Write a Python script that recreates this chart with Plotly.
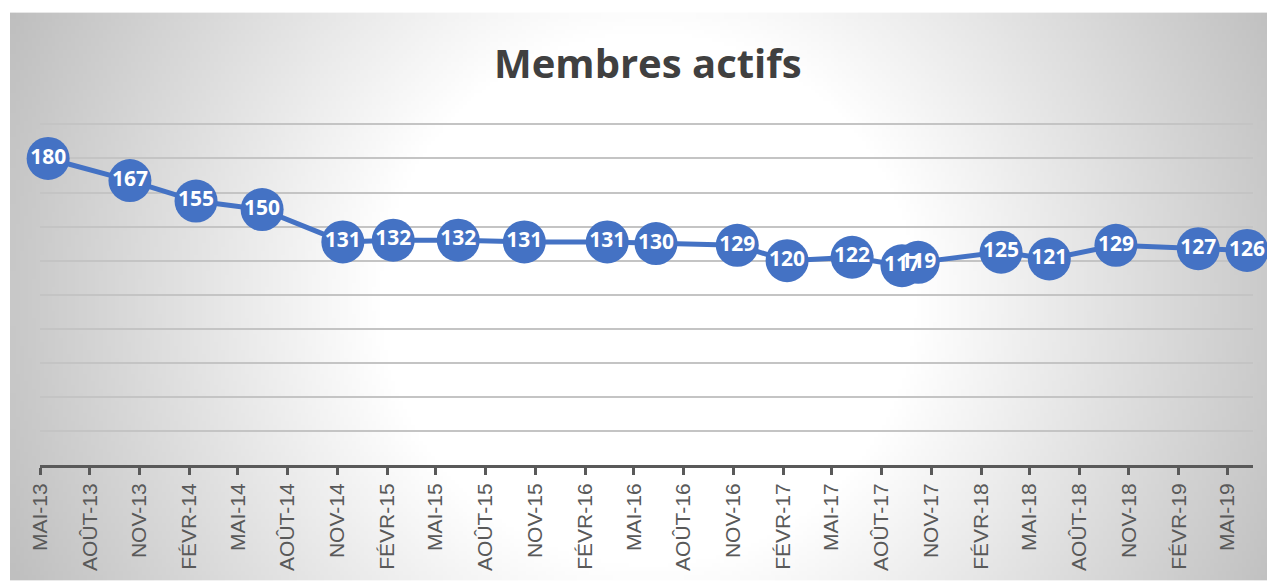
import base64
import struct
import zlib

import plotly.graph_objects as go

# ---------------- data ----------------
dates = [
    "2013-05-16", "2013-10-14", "2014-02-13", "2014-06-15", "2014-11-11",
    "2015-02-12", "2015-06-12", "2015-10-12", "2016-03-13", "2016-06-11",
    "2016-11-08", "2017-02-08", "2017-06-08", "2017-09-08", "2017-10-08",
    "2018-03-10", "2018-06-07", "2018-10-08", "2019-03-09", "2019-06-07",
]
members = [180, 167, 155, 150, 131, 132, 132, 131, 131, 130,
           129, 120, 122, 117, 119, 125, 121, 129, 127, 126]

tick_dates = [
    "2013-05-01", "2013-08-01", "2013-11-01", "2014-02-01", "2014-05-01",
    "2014-08-01", "2014-11-01", "2015-02-01", "2015-05-01", "2015-08-01",
    "2015-11-01", "2016-02-01", "2016-05-01", "2016-08-01", "2016-11-01",
    "2017-02-01", "2017-05-01", "2017-08-01", "2017-11-01", "2018-02-01",
    "2018-05-01", "2018-08-01", "2018-11-01", "2019-02-01", "2019-05-01",
]
tick_labels = [
    "MAI-13", "AOÛT-13", "NOV-13", "FÉVR-14", "MAI-14", "AOÛT-14", "NOV-14",
    "FÉVR-15", "MAI-15", "AOÛT-15", "NOV-15", "FÉVR-16", "MAI-16", "AOÛT-16",
    "NOV-16", "FÉVR-17", "MAI-17", "AOÛT-17", "NOV-17", "FÉVR-18", "MAI-18",
    "AOÛT-18", "NOV-18", "FÉVR-19", "MAI-19",
]
title_text = "Membres actifs"

# ---------------- style / geometry ----------------
OFF = 8                     # default body margin of the html page
W, H = 1275 - OFF, 583 - OFF
BLUE = "#4472C4"
AXIS_GREY = "#595959"

ML, MR, MT, MB = 32, 22, 113, 116
PW, PH = W - ML - MR, H - MT - MB


def radial_background(w, h, area_w, area_h, cx, cy):
    """Grey radial gradient (white centre) as a data-URI PNG."""
    sx = area_w / w
    sy = area_h / h
    rows = []
    for j in range(h):
        py = (j + 0.5) * sy
        row = bytearray([0])
        for i in range(w):
            px = (i + 0.5) * sx
            d = ((px - cx) ** 2 + (py - cy) ** 2) ** 0.5
            c = 255 - max(0.0, d - 270) * 0.15
            c = int(max(185, min(255, c)))
            row.append(c)
        rows.append(bytes(row))
    raw = b"".join(rows)

    def chunk(tag, data):
        return (struct.pack(">I", len(data)) + tag + data
                + struct.pack(">I", zlib.crc32(tag + data) & 0xffffffff))

    png = (b"\x89PNG\r\n\x1a\n"
           + chunk(b"IHDR", struct.pack(">IIBBBBB", w, h, 8, 0, 0, 0, 0))
           + chunk(b"IDAT", zlib.compress(raw, 9))
           + chunk(b"IEND", b""))
    return "data:image/png;base64," + base64.b64encode(png).decode()


# chart area in figure pixels
ax0, ay0 = 10 - OFF, 12 - OFF
aw, ah = W - ax0, H - ay0
bg_src = radial_background(320, 144, aw, ah, 648 - OFF - ax0, 300 - OFF - ay0)


def px_to_paper_x(px):
    return (px - ML) / PW


def px_to_paper_y(py):
    return 1 - (py - MT) / PH


fig = go.Figure()
fig.add_trace(go.Scatter(
    x=dates,
    y=members,
    mode="lines+markers+text",
    line=dict(color=BLUE, width=5),
    marker=dict(color=BLUE, size=43),
    text=[str(v) for v in members],
    textposition="middle center",
    textfont=dict(family="Open Sans", size=21, color="white", weight="bold"),
    cliponaxis=False,
    hoverinfo="x+y",
    showlegend=False,
))

fig.update_layout(
    width=W,
    height=H,
    paper_bgcolor="white",
    plot_bgcolor="rgba(0,0,0,0)",
    margin=dict(l=ML, r=MR, t=MT, b=MB),
    images=[dict(
        source=bg_src,
        xref="paper", yref="paper",
        x=px_to_paper_x(ax0), y=px_to_paper_y(ay0),
        sizex=aw / PW, sizey=ah / PH,
        xanchor="left", yanchor="top",
        sizing="stretch", layer="below",
    )],
    annotations=[dict(
        text=title_text,
        xref="paper", yref="paper",
        x=px_to_paper_x(648 - OFF), y=px_to_paper_y(63 - OFF - 1),
        xanchor="center", yanchor="middle",
        showarrow=False,
        font=dict(family="Open Sans", size=40, color="#404040", weight="bold"),
    )],
    xaxis=dict(
        type="date",
        range=["2013-05-01", "2019-06-18"],
        tickvals=tick_dates,
        ticktext=tick_labels,
        tickangle=-90,
        tickfont=dict(family="Liberation Sans", size=21, color=AXIS_GREY),
        ticks="outside",
        ticklen=7,
        tickwidth=3,
        tickcolor=AXIS_GREY,
        showline=True,
        linecolor=AXIS_GREY,
        linewidth=3,
        showgrid=False,
        zeroline=False,
    ),
    yaxis=dict(
        range=[0, 202],
        dtick=20,
        tick0=0,
        showticklabels=False,
        showgrid=True,
        gridcolor="#c4c4c4",
        gridwidth=1.5,
        zeroline=False,
        showline=False,
    ),
)

fig.write_html("out.html")
